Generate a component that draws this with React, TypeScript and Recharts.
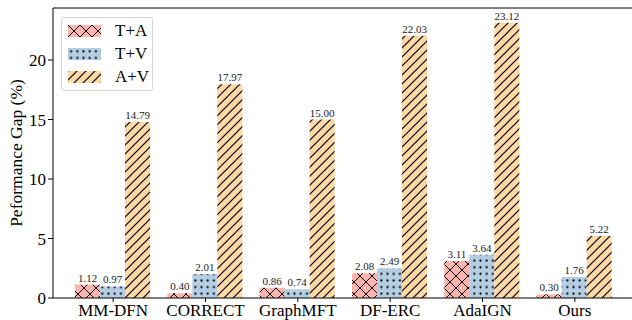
import React from 'react'
import {
  BarChart,
  Bar,
  XAxis,
  YAxis,
  LabelList,
  ReferenceLine,
} from 'recharts'

const methods = ['MM-DFN', 'CORRECT', 'GraphMFT', 'DF-ERC', 'AdaIGN', 'Ours']
const taGap = [1.12, 0.4, 0.86, 2.08, 3.11, 0.3]
const tvGap = [0.97, 2.01, 0.74, 2.49, 3.64, 1.76]
const avGap = [14.79, 17.97, 15.0, 22.03, 23.12, 5.22]
const yTicks = [0, 5, 10, 15, 20]
const yMax = 24.37

const FONT = '"Liberation Serif", "Times New Roman", serif'

const series = [
  { key: 'ta', label: 'T+A', pattern: 'hatch-ta' },
  { key: 'tv', label: 'T+V', pattern: 'hatch-tv' },
  { key: 'av', label: 'A+V', pattern: 'hatch-av' },
]

const data = methods.map((name, i) => ({
  name,
  ta: taGap[i],
  tv: tvGap[i],
  av: avGap[i],
}))

// hatch fills shared by the bars and the legend swatches
function Patterns() {
  return (
    <svg width={0} height={0} style={{ position: 'absolute' }}>
      <defs>
        <pattern id="hatch-ta" width={12} height={12} patternUnits="userSpaceOnUse">
          <rect width={12} height={12} fill="#FBB4AE" />
          <path d="M0,0 L12,12 M12,0 L0,12" stroke="#000" strokeWidth={1} />
        </pattern>
        <pattern id="hatch-tv" width={6.2} height={6.6} patternUnits="userSpaceOnUse">
          <rect width={6.2} height={6.6} fill="#B3CDE3" />
          <circle cx={3.1} cy={3.3} r={1.1} fill="#000" />
        </pattern>
        <pattern id="hatch-av" width={9} height={9} patternUnits="userSpaceOnUse">
          <rect width={9} height={9} fill="#FED9A6" />
          <path d="M0,9 L9,0 M-2,2 L2,-2 M7,11 L11,7" stroke="#000" strokeWidth={1.2} />
        </pattern>
      </defs>
    </svg>
  )
}

function LegendBox() {
  return (
    <div
      style={{
        position: 'absolute',
        left: 61,
        top: 17,
        width: 92,
        height: 74,
        background: '#fff',
        border: '1px solid #d6d6d6',
        borderRadius: 3,
        boxSizing: 'border-box',
        fontFamily: FONT,
        fontSize: 17,
      }}
    >
      {series.map((s, i) => (
        <div
          key={s.key}
          style={{ position: 'absolute', left: 6, top: 6 + i * 23, display: 'flex', alignItems: 'center', height: 13 }}
        >
          <svg width={33} height={12}>
            <rect width={33} height={12} fill={`url(#${s.pattern})`} />
          </svg>
          <span style={{ marginLeft: 14, lineHeight: '13px' }}>{s.label}</span>
        </div>
      ))}
    </div>
  )
}

export default function App() {
  return (
    <div
      style={{
        position: 'absolute',
        left: 0,
        top: 0,
        width: 632,
        height: 320,
        overflow: 'hidden',
        background: '#fff',
        fontFamily: FONT,
      }}
    >
      <style>{`.recharts-wrapper text { font-family: ${FONT}; }`}</style>
      <Patterns />
      <BarChart
        width={640}
        height={320}
        data={data}
        margin={{ top: 8, right: 5, left: 0, bottom: 0 }}
        barCategoryGap={8}
        barGap={0}
      >
        <XAxis
          dataKey="name"
          height={22}
          padding={{ left: 14, right: 14 }}
          tick={{ fontSize: 17, fill: '#000' }}
          tickSize={4}
          tickMargin={2}
          axisLine={{ stroke: '#000' }}
          tickLine={{ stroke: '#000' }}
          interval={0}
        />
        <YAxis
          width={53}
          domain={[0, yMax]}
          ticks={yTicks}
          tick={{ fontSize: 17, fill: '#000' }}
          tickSize={5}
          tickMargin={2}
          axisLine={{ stroke: '#000' }}
          tickLine={{ stroke: '#000' }}
          label={{
            value: 'Peformance Gap (%)',
            angle: -90,
            position: 'insideLeft',
            offset: 16,
            style: { textAnchor: 'middle', fontSize: 17.5, fill: '#000' },
          }}
        />
        <ReferenceLine y={yMax} stroke="#000" strokeWidth={1} />
        {series.map(s => (
          <Bar key={s.key} dataKey={s.key} fill={`url(#${s.pattern})`} isAnimationActive={false}>
            <LabelList
              dataKey={s.key}
              position="top"
              offset={3}
              formatter={(v: number) => v.toFixed(2)}
              fontSize={11}
              fill="#222"
            />
          </Bar>
        ))}
      </BarChart>
      <LegendBox />
    </div>
  )
}
